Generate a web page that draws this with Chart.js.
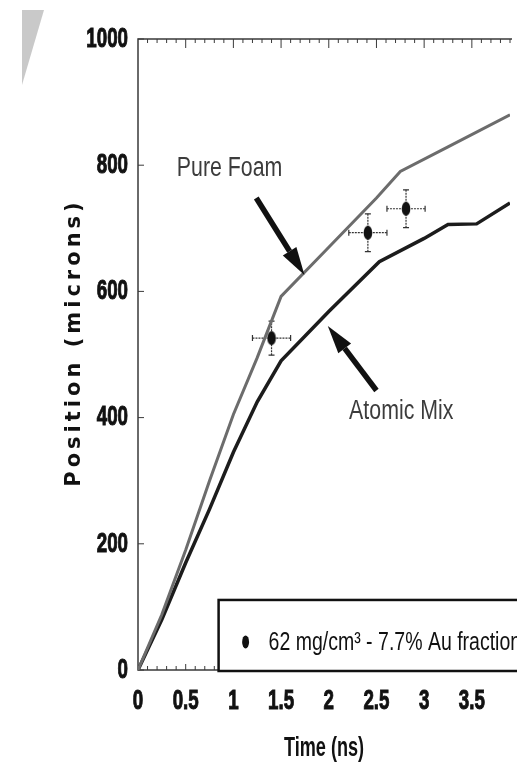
<!DOCTYPE html>
<html>
<head>
<meta charset="utf-8">
<title>Position vs Time</title>
<script src="https://cdn.jsdelivr.net/npm/chart.js@4.4.1/dist/chart.umd.min.js"></script>
<style>
  html, body { margin: 0; padding: 0; background: #fff; }
  #wrap { position: relative; width: 517px; height: 783px; overflow: hidden; }
  #smudge {
    position: absolute; left: 22px; top: 10px; width: 22px; height: 75px;
    background: #c9c9c9; clip-path: polygon(0 0, 100% 0, 0 100%);
  }
</style>
</head>
<body>
<div id="wrap">
  <div id="smudge"></div>
  <canvas id="chart" width="517" height="783"></canvas>
</div>
<script>
// simulation curves (time in ns, position in microns)
const foamTime = [0, 0.25, 0.5, 0.75, 1.0, 1.25, 1.5, 2.0, 2.5, 2.75, 3.25, 3.9];
const foamPos  = [0, 88, 190, 300, 405, 495, 592, 670, 748, 790, 829, 880];

const mixTime = [0, 0.25, 0.5, 0.75, 1.0, 1.25, 1.5, 2.0, 2.53, 3.0, 3.25, 3.55, 3.9];
const mixPos  = [0, 80, 170, 255, 345, 425, 490, 568, 647, 684, 706, 707, 740];

// measured points with error bars
const expTime   = [1.40, 2.41, 2.81];
const expPos    = [526, 693, 731];
const expTimeErr = [0.2, 0.2, 0.2];
const expPosErr  = [27, 30, 30];

const xTicks = [0, 0.5, 1, 1.5, 2, 2.5, 3, 3.5];
const xTickLabels = ['0', '0.5', '1', '1.5', '2', '2.5', '3', '3.5'];
const yTicks = [0, 200, 400, 600, 800, 1000];
const yTickLabels = ['0', '200', '400', '600', '800', '1000'];

const expLabel = '62 mg/cm\u00b3 - 7.7% Au fraction';

// annotation text + arrow (data coordinates)
const notes = [
  { text: 'Pure Foam', at: [0.96, 794], from: [1.24, 748], to: [1.745, 626] },
  { text: 'Atomic Mix', at: [2.76, 410], from: [2.50, 443], to: [1.99, 545] }
];

const sans = "'Liberation Sans', Arial, sans-serif";
const tickFont = { family: sans, weight: 'bold', size: 28 };

// the original uses a condensed face; squeeze text horizontally around its anchor
const canvas = document.getElementById('chart');
const ctx2d = canvas.getContext('2d');
const rawFillText = CanvasRenderingContext2D.prototype.fillText;
const rawStrokeText = CanvasRenderingContext2D.prototype.strokeText;
ctx2d.condense = 0.67;
function squeezed(raw) {
  return function (text, x, y) {
    const k = this.condense || 1;
    if (k === 1) return raw.call(this, text, x, y);
    this.save();
    this.translate(x, y);
    this.scale(k, 1);
    raw.call(this, text, 0, 0);
    this.restore();
  };
}
ctx2d.fillText = squeezed(rawFillText);
ctx2d.strokeText = squeezed(rawStrokeText);

// marker: small filled ellipse, a bit taller than wide
function makeMarker() {
  const c = document.createElement('canvas');
  c.width = 10; c.height = 16;
  const g = c.getContext('2d');
  g.fillStyle = '#111';
  g.beginPath();
  g.ellipse(5, 8, 4.3, 7, 0, 0, Math.PI * 2);
  g.fill();
  return c;
}

function toXY(xs, ys) {
  return xs.map((x, i) => ({ x: x, y: ys[i] }));
}

const decor = {
  id: 'decor',
  beforeDatasetsDraw(chart) {
    const { ctx, chartArea: a, scales: { x, y } } = chart;
    ctx.save();
    // frame: left, bottom, top (right side runs off the page)
    ctx.strokeStyle = '#3a3a3a';
    ctx.lineWidth = 1.5;
    ctx.beginPath();
    ctx.moveTo(a.right + 2, a.top);
    ctx.lineTo(a.left, a.top);
    ctx.lineTo(a.left, a.bottom);
    ctx.lineTo(a.right + 2, a.bottom);
    ctx.stroke();

    // minor ticks every 0.1 ns on top and bottom, longer at each 0.5
    ctx.lineWidth = 1;
    for (let i = 1; i <= 39; i++) {
      const px = x.getPixelForValue(i / 10);
      const big = i % 5 === 0;
      ctx.beginPath();
      ctx.moveTo(px, a.top);
      ctx.lineTo(px, a.top + (big ? 9 : 4));
      ctx.moveTo(px, a.bottom);
      ctx.lineTo(px, a.bottom - (big ? 6 : 4));
      ctx.stroke();
    }
    // left ticks
    yTicks.forEach(v => {
      const py = y.getPixelForValue(v);
      ctx.beginPath();
      ctx.moveTo(a.left, py);
      ctx.lineTo(a.left + 6, py);
      ctx.stroke();
    });

    // error bars
    ctx.strokeStyle = '#333';
    ctx.lineWidth = 1.2;
    expTime.forEach((t, i) => {
      const cx = x.getPixelForValue(t);
      const cy = y.getPixelForValue(expPos[i]);
      const x0 = x.getPixelForValue(t - expTimeErr[i]);
      const x1 = x.getPixelForValue(t + expTimeErr[i]);
      const y0 = y.getPixelForValue(expPos[i] - expPosErr[i]);
      const y1 = y.getPixelForValue(expPos[i] + expPosErr[i]);
      ctx.setLineDash([2, 1]);
      ctx.beginPath();
      ctx.moveTo(x0, cy); ctx.lineTo(x1, cy);
      ctx.moveTo(cx, y0); ctx.lineTo(cx, y1);
      ctx.stroke();
      ctx.setLineDash([]);
      ctx.beginPath();
      ctx.moveTo(x0, cy - 3); ctx.lineTo(x0, cy + 3);
      ctx.moveTo(x1, cy - 3); ctx.lineTo(x1, cy + 3);
      ctx.moveTo(cx - 3, y0); ctx.lineTo(cx + 3, y0);
      ctx.moveTo(cx - 3, y1); ctx.lineTo(cx + 3, y1);
      ctx.stroke();
    });
    ctx.restore();
  },
  afterDatasetsDraw(chart) {
    const { ctx, scales: { x, y } } = chart;
    ctx.save();
    notes.forEach(n => {
      // label
      ctx.condense = 0.79;
      ctx.font = '27px ' + sans;
      ctx.fillStyle = '#3c3c3c';
      ctx.textAlign = 'center';
      ctx.textBaseline = 'middle';
      ctx.fillText(n.text, x.getPixelForValue(n.at[0]), y.getPixelForValue(n.at[1]));
      ctx.condense = 0.67;
      // arrow
      const x0 = x.getPixelForValue(n.from[0]), y0 = y.getPixelForValue(n.from[1]);
      const x1 = x.getPixelForValue(n.to[0]), y1 = y.getPixelForValue(n.to[1]);
      const ang = Math.atan2(y1 - y0, x1 - x0);
      const head = 28, half = 8;
      const bx = x1 - head * Math.cos(ang), by = y1 - head * Math.sin(ang);
      ctx.strokeStyle = '#111';
      ctx.lineWidth = 5.5;
      ctx.beginPath();
      ctx.moveTo(x0, y0);
      ctx.lineTo(bx, by);
      ctx.stroke();
      ctx.fillStyle = '#111';
      ctx.beginPath();
      ctx.moveTo(x1, y1);
      ctx.lineTo(bx + half * Math.sin(ang), by - half * Math.cos(ang));
      ctx.lineTo(bx - half * Math.sin(ang), by + half * Math.cos(ang));
      ctx.closePath();
      ctx.fill();
    });
    ctx.restore();
  },
  afterDraw(chart) {
    const { ctx, chartArea: a, scales: { x, y } } = chart;
    ctx.save();
    // y axis title, wide and spaced out like the original
    ctx.condense = 1;
    ctx.font = 'bold 21px "DejaVu Sans", sans-serif';
    ctx.letterSpacing = '4px';
    ctx.fillStyle = '#111';
    ctx.textAlign = 'center';
    ctx.textBaseline = 'middle';
    ctx.translate(75, (a.top + a.bottom) / 2 - 12);
    ctx.rotate(-Math.PI / 2);
    ctx.fillText('Position (microns)', 0, 0);
    ctx.restore();
    ctx.condense = 0.67;

    // legend box sitting on the x axis
    ctx.save();
    const lx = x.getPixelForValue(0.845);
    const ty = y.getPixelForValue(111);
    ctx.fillStyle = '#fff';
    ctx.fillRect(lx, ty, chart.width, a.bottom - ty + 1);
    ctx.strokeStyle = '#111';
    ctx.lineWidth = 2.5;
    ctx.strokeRect(lx, ty, chart.width, a.bottom - ty + 1);
    ctx.fillStyle = '#111';
    ctx.beginPath();
    ctx.ellipse(lx + 27, ty + 42, 3.5, 6.5, 0, 0, Math.PI * 2);
    ctx.fill();
    ctx.condense = 0.75;
    ctx.font = '26px ' + sans;
    ctx.textAlign = 'left';
    ctx.textBaseline = 'middle';
    ctx.fillText(chart.data.datasets[2].label, lx + 50, ty + 43);
    ctx.condense = 0.67;
    ctx.restore();
  }
};

new Chart(canvas, {
  type: 'scatter',
  data: {
    datasets: [
      {
        label: 'Pure Foam',
        data: toXY(foamTime, foamPos),
        showLine: true,
        borderColor: '#6c6c6c',
        borderWidth: 3,
        pointRadius: 0,
        tension: 0
      },
      {
        label: 'Atomic Mix',
        data: toXY(mixTime, mixPos),
        showLine: true,
        borderColor: '#1c1c1c',
        borderWidth: 3.5,
        pointRadius: 0,
        tension: 0
      },
      {
        label: expLabel,
        data: toXY(expTime, expPos),
        pointStyle: makeMarker(),
        pointRadius: 6
      }
    ]
  },
  options: {
    responsive: false,
    animation: false,
    devicePixelRatio: 1,
    layout: { padding: { top: 39, right: 0, left: 0, bottom: 0 } },
    plugins: {
      legend: { display: false },
      tooltip: { enabled: false }
    },
    scales: {
      x: {
        type: 'linear',
        min: 0,
        max: 3.9,
        afterBuildTicks: s => { s.ticks = xTicks.map(v => ({ value: v })); },
        afterFit: s => { s.height = 113; },
        grid: { display: false, drawTicks: false },
        border: { display: false },
        ticks: {
          font: tickFont,
          color: '#111',
          textStrokeColor: '#111',
          textStrokeWidth: 1,
          padding: 14,
          maxRotation: 0,
          autoSkip: false,
          callback: (v, i) => xTickLabels[i]
        },
        title: {
          display: true,
          text: 'Time (ns)',
          font: { family: sans, weight: 'bold', size: 27 },
          color: '#111',
          padding: { top: 0, bottom: 18 }
        }
      },
      y: {
        type: 'linear',
        min: 0,
        max: 1000,
        afterBuildTicks: s => { s.ticks = yTicks.map(v => ({ value: v })); },
        afterFit: s => { s.width = 138; },
        grid: { display: false, drawTicks: false },
        border: { display: false },
        ticks: {
          font: tickFont,
          color: '#111',
          textStrokeColor: '#111',
          textStrokeWidth: 1,
          padding: 10,
          autoSkip: false,
          callback: (v, i) => yTickLabels[i]
        }
      }
    }
  },
  plugins: [decor]
});
</script>
</body>
</html>
